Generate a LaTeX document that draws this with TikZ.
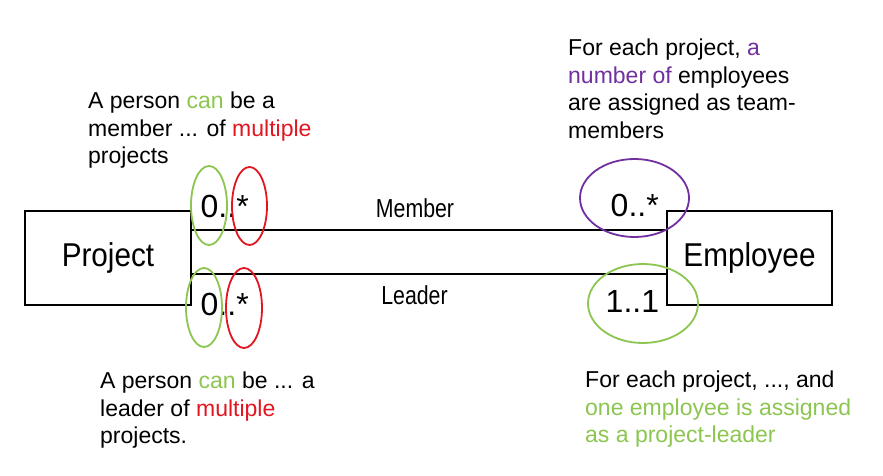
\documentclass[tikz,border=0pt]{standalone}
\usepackage{fontspec}
\setmainfont{Liberation Sans}
\newfontfamily\narrowfont[FakeStretch=0.82]{Liberation Sans}
\newfontfamily\boxfont[FakeStretch=0.9]{Liberation Sans}
\definecolor{lgreen}{RGB}{140,198,80}
\definecolor{lred}{RGB}{226,22,32}
\definecolor{lpurple}{RGB}{112,48,160}
\begin{document}
\begin{tikzpicture}[x=1pt,y=-1pt,
  entity/.style={draw, line width=1.2pt, inner sep=0pt, font=\boxfont\fontsize{33pt}{36pt}\selectfont},
  rolelabel/.style={anchor=base, inner sep=0pt, font=\narrowfont\fontsize{26pt}{30pt}\selectfont},
  mult/.style={anchor=base west, inner sep=0pt, font=\fontsize{32pt}{36pt}\selectfont},
  note/.style={anchor=north west, inner sep=0pt, align=left, font=\fontsize{23pt}{27.5pt}\selectfont},
  assoc/.style={line width=1.2pt},
  ring/.style={line width=1.8pt}]
\useasboundingbox (0,0) rectangle (883,476);
\fill[white] (0,0) rectangle (883,476);

\node[entity, minimum width=166pt, minimum height=94pt] (project) at (108,258) {Project};
\node[entity, minimum width=165pt, minimum height=94pt] (employee) at (749.5,258) {Employee};

\draw[assoc] ([yshift=28pt]project.east) -- ([yshift=28pt]employee.west);
\draw[assoc] ([yshift=-16pt]project.east) -- ([yshift=-16pt]employee.west);

\node[rolelabel] (member) at (415,217) {Member};
\node[rolelabel] (leader) at (414.5,304) {Leader};

\node[mult] (m1) at (200.5,217) {0..*};
\node[mult] (m2) at (200.5,315) {0..*};
\node[mult] (m3) at (610.5,216) {0..*};
\node[mult] (m4) at (605.5,312) {1..1};

\draw[ring, lgreen] (209,205.5) ellipse [x radius=18pt, y radius=39.5pt];
\draw[ring, lred] (249.5,206) ellipse [x radius=17.5pt, y radius=39pt];
\draw[ring, lgreen] (204,307.5) ellipse [x radius=18pt, y radius=39.5pt];
\draw[ring, lred] (244,308) ellipse [x radius=18pt, y radius=40pt];
\draw[ring, lpurple] (634.5,198) ellipse [x radius=54.5pt, y radius=39pt];
\draw[ring, lgreen] (643,303.5) ellipse [x radius=55pt, y radius=39.5pt];

\node[note] (n1) at (88,92) {A person \textcolor{lgreen}{can} be a\\member ... of \textcolor{lred}{multiple}\\projects};
\node[note] (n2) at (568,39) {For each project, \textcolor{lpurple}{a}\\\textcolor{lpurple}{number of} employees\\are assigned as team-\\members};
\node[note] (n3) at (100,372) {A person \textcolor{lgreen}{can} be ... a\\leader of \textcolor{lred}{multiple}\\projects.};
\node[note] (n4) at (585,371) {For each project, ..., and\\\textcolor{lgreen}{one employee is assigned}\\\textcolor{lgreen}{as a project-leader}};
\end{tikzpicture}
\end{document}
